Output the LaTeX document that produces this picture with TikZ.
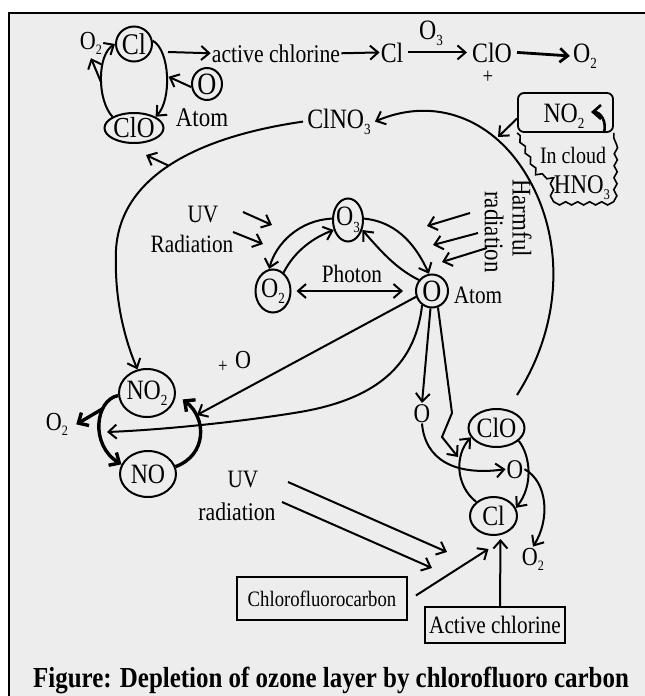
\documentclass[tikz,border=0pt]{standalone}
\usepackage{fontspec}
\usepackage{graphicx}
\setmainfont[FakeStretch=0.85]{Liberation Serif}
\newfontfamily\titlefont[FakeStretch=0.86]{Liberation Serif}
\usetikzlibrary{arrows.meta,shapes.geometric,calc,decorations.pathmorphing}
\definecolor{bg}{RGB}{237,237,237}
\newcommand{\chsub}[1]{\raisebox{-0.5ex}{\scalebox{0.55}{#1}}}
\newcommand{\fs}[1]{\fontsize{#1}{#1}\selectfont}
\begin{document}
\begin{tikzpicture}[x=1pt,y=-1pt,
  lbl/.style={inner sep=1pt, anchor=base, font=\fs{26}},
  mol/.style={draw, ellipse, line width=2pt, inner sep=-2pt, font=\fs{28}},
  atom/.style={mol, inner sep=-4pt, font=\fs{31}},
  arr/.style={line width=2pt, -{Straight Barb[length=8pt,width=14pt]}},
  tharr/.style={line width=3.4pt, -{Straight Barb[length=8pt,width=15pt]}},
  boxed/.style={draw, line width=1.8pt, inner sep=0pt}
]
\useasboundingbox (0,0) rectangle (645,696);
\fill[white] (0,0) rectangle (645,696);
\fill[bg] (9,13) rectangle (645,696);
\draw[line width=2.4pt] (9,696) -- (9,13) -- (645,13);

% ---------- top-left cycle ----------
\node[mol, inner sep=-3pt, font=\fs{30}, minimum width=36, minimum height=35] (clA) at (134,44) {Cl};
\node[mol, font=\fs{29}, minimum width=59, minimum height=30] (cloA) at (134,128) {ClO};
\node[atom, minimum width=30, minimum height=32] (oA1) at (207,84) {O};
\node[lbl] (o2A) at (91,49) {O\chsub{2}};
\node[lbl, font=\fs{27}] (atomA) at (202,126) {Atom};
\draw[arr] (clA.10) .. controls (170,50) and (172,100) .. (cloA.north east) coordinate[pos=0.5] (rc);
\draw[arr] (cloA.north west) .. controls (97,100) and (97,55) .. (clA.west) coordinate[pos=0.45] (lc);
\draw[arr] (lc) -- ([yshift=-2pt]o2A.south);
\draw[arr, shorten >=2pt] ([yshift=-3pt]oA1.west) -- (rc);

% ---------- top row ----------
\node[lbl, font=\fs{25.5}] (ac) at (276,62) {active chlorine};
\node[lbl, font=\fs{28}] (cl1) at (392,62) {Cl};
\node[lbl, font=\fs{28}] (clo1) at (492,62) {ClO};
\node[lbl, font=\fs{28}] (o2T) at (585,62) {O\chsub{2}};
\node[lbl, font=\fs{28}] (o3T) at (431,39) {O\chsub{3}};
\node[inner sep=0pt, font=\fs{22}] (plus) at (488,77) {+};
\draw[arr] ($(clA.east)+(15,8)$) -- (ac.west);
\draw[arr] (ac.east) -- (cl1.west);
\draw[arr] ([xshift=4pt]cl1.east) -- ([xshift=-4pt]clo1.west);
\draw[arr, line width=2.8pt] ([xshift=4pt]clo1.east) -- ([xshift=-2pt]o2T.west);

% ---------- ClNO3, NO2 box, cloud ----------
\node[lbl, font=\fs{28}] (clno3) at (339,128) {ClNO\chsub{3}};
\node[boxed, rounded corners=6pt, minimum width=95, minimum height=39] (nobox) at (565.5,112.5) {};
\node[lbl, font=\fs{28}] (no2t) at (564,122) {NO\chsub{2}};
\draw[line width=1.6pt, decorate, decoration={snake, segment length=12pt, amplitude=1.6pt}]
  (nobox.south west) -- (536,172) -- (553,178) -- (553,200) -- (613,200) -- (nobox.south east);
\node[lbl, font=\fs{23.5}] (incloud) at (573,163) {In cloud};
\node[lbl, font=\fs{27}] (hno3) at (582,193) {HNO\chsub{3}};
\draw[arr, line width=2.6pt] ([xshift=-10pt]nobox.south east) .. controls (607,122) and (601,112) .. (591,112);

% big arc from ClO (bottom right) to ClNO3
\coordinate (arcS) at (517,395);
\draw[arr] (arcS) .. controls (565,320) and (565,230) .. (520,165) .. controls (485,115) and (430,98) .. ([xshift=3pt]clno3.east);
\coordinate (arcT) at (498,137);
\draw[arr] ([yshift=-6pt]nobox.west) -- (arcT);

% big left curve ClNO3 -> NO2 with branch to ClO
\node[mol, minimum width=56, minimum height=48] (no2) at (147,393) {NO\chsub{2}};
\node[mol, minimum width=56, minimum height=46] (no) at (148,474) {NO};
\draw[arr] ([xshift=-3pt]clno3.west) .. controls (190,138) and (120,180) .. (116,250) coordinate[pos=0.5] (brC)
  .. controls (114,300) and (125,340) .. (no2.112);
\coordinate (tipC) at (146,155);
\draw[arr] (brC) -- (tipC);

% ---------- central ozone cycle ----------
\node[mol, minimum width=30, minimum height=43] (o3) at (348,220) {O\chsub{3}};
\node[mol, minimum width=35, minimum height=43] (o2c) at (273,291) {O\chsub{2}};
\node[atom, minimum width=32, minimum height=33] (oat) at (432,291) {O};
\node[lbl, font=\fs{25}] (atomC) at (478,303) {Atom};
\node[lbl, font=\fs{25}] (photon) at (352,282) {Photon};
\draw[line width=2pt, {Straight Barb[length=8pt,width=14pt]}-{Straight Barb[length=8pt,width=14pt]}] ([xshift=5pt]o2c.east) -- ([xshift=-12pt]oat.west);
\draw[arr] (o3.175) .. controls (300,220) and (276,243) .. (o2c.100);
\draw[arr] (o2c.60) .. controls (295,250) and (315,237) .. (o3.215);
\draw[arr] (o3.5) .. controls (400,222) and (418,250) .. (oat.100);
\draw[arr] (oat.140) .. controls (395,268) and (380,250) .. (o3.325);

\node[lbl, font=\fs{25}] (uv1) at (203,222) {UV};
\node[lbl, font=\fs{25}] (rad1) at (192,252) {Radiation};
\coordinate (u1a) at (243,212); \coordinate (u1b) at (272,225);
\coordinate (u2a) at (233,232); \coordinate (u2b) at (263,244);
\draw[arr] (u1a) -- (u1b);
\draw[arr] (u2a) -- (u2b);

\node[inner sep=1pt, rotate=-90, font=\fs{27}] (harm) at (522,218) {Harmful};
\node[inner sep=1pt, rotate=-90, font=\fs{27}] (harmrad) at (494,232) {radiation};
\coordinate (h1a) at (470,213); \coordinate (h1b) at (427,226);
\coordinate (h2a) at (478,233); \coordinate (h2b) at (433,245);
\coordinate (h3a) at (487,248); \coordinate (h3b) at (442,262);
\draw[arr] (h1a) -- (h1b);
\draw[arr] (h2a) -- (h2b);
\draw[arr] (h3a) -- (h3b);

% ---------- NO2 / NO cycle ----------
\node[lbl] (o2L) at (57,430) {O\chsub{2}};
\node[inner sep=0pt, font=\fs{20}] (plusO) at (223,367) {+};
\node[lbl] (oplus) at (243,368) {O};
\draw[tharr] (no2.185) .. controls (95,400) and (90,445) .. (no.160) coordinate[pos=0.3] (brD);
\draw[tharr] (brD) -- ([xshift=7pt]o2L.east);
\draw[tharr] (no.15) .. controls (207,455) and (207,418) .. ([xshift=8pt,yshift=1pt]no2.345);
\coordinate (lpT) at (107,432);
\draw[arr] (oat.235) .. controls (415,370) and (370,400) .. (300,412) .. controls (240,422) and (160,430) .. (lpT);
\coordinate (noT) at (197,415);
\draw[arr] (oat.200) -- (noT);

% ---------- ClO / Cl cycle ----------
\node[lbl, font=\fs{27}] (oA) at (422,422) {O};
\node[lbl, font=\fs{27}] (oB) at (515,478) {O};
\node[lbl] (o2B) at (533,565) {O\chsub{2}};
\node[mol, minimum width=56, minimum height=38] (clo2) at (496.5,428) {ClO};
\node[mol, minimum width=47, minimum height=38] (cl2) at (493.5,516) {Cl};
\draw[arr] (oat.265) -- (oA.north);
\coordinate (zzE) at (458,457);
\draw[arr] (oat.290) -- (452,413) -- (442,437) -- (zzE);
\draw[arr] (oA.south) .. controls (425,460) and (455,476) .. (oB.west);
\draw[arr] (cl2.north west) .. controls (455,485) and (455,455) .. (clo2.200);
\draw[arr] (clo2.330) .. controls (530,455) and (534,485) .. (cl2.20);
\draw[arr] (oB.east) .. controls (548,482) and (550,520) .. (o2B.north);

% ---------- bottom ----------
\node[lbl, font=\fs{25}] (uv2) at (243,487) {UV};
\node[lbl, font=\fs{25.5}] (rad2) at (237,520) {radiation};
\coordinate (v1a) at (288,482); \coordinate (v1b) at (447,552);
\coordinate (v2a) at (282,502); \coordinate (v2b) at (432,568);
\draw[arr] (v1a) -- (v1b);
\draw[arr] (v2a) -- (v2b);

\node[boxed, minimum width=170, minimum height=43, font=\fs{22}] (cfc) at (322,598.5) {Chlorofluorocarbon};
\node[boxed, minimum width=140, minimum height=36, font=\fs{25}] (acbox) at (495,625) {Active chlorine};
\draw[arr] ([xshift=8pt,yshift=3pt]cfc.east) -- ([xshift=-5pt,yshift=-13pt]cl2.south);
\draw[arr] ([xshift=5pt]acbox.north) -- ([xshift=7pt,yshift=-3pt]cl2.south);

\node[anchor=base, inner sep=0pt, font=\titlefont\bfseries\fs{29}] (title) at (331,687) {Figure: Depletion of ozone layer by chlorofluoro carbon};
\end{tikzpicture}
\end{document}
